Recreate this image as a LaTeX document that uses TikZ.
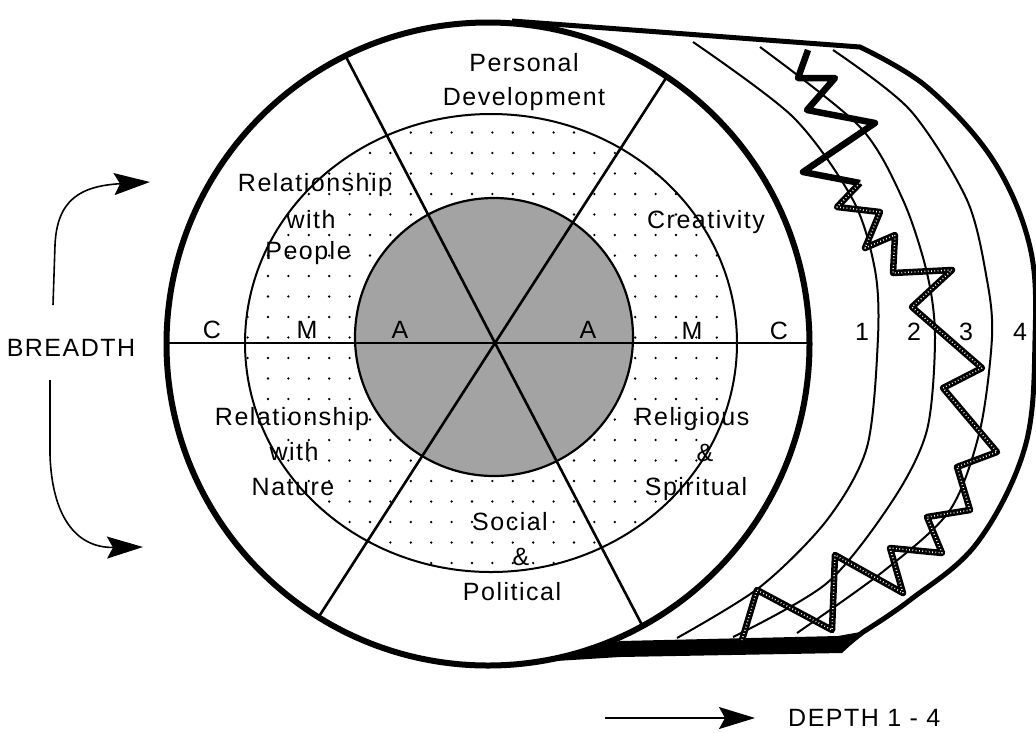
\documentclass[tikz,border=0pt]{standalone}
\usepackage{fontspec}
\setmainfont{Liberation Sans}[LetterSpace=6]
\usetikzlibrary{arrows.meta}

\begin{document}
\begin{tikzpicture}[x=1pt,y=-1pt,
  lbl/.style={inner sep=0pt, text height=17pt, text depth=0pt, font=\fontsize{25}{29}\selectfont},
  bigarrow/.style={line width=1.6pt, -{Stealth[length=36pt,width=22pt,inset=6pt]}},
  ring/.style={line width=2pt},
  spoke/.style={line width=2.6pt},
  zig/.style={line width=6.5pt, line join=round},
  zigdots/.style={zig, postaction={draw=white, line width=1.5pt, line join=round, dash pattern=on 0.8pt off 2.5pt}}]
\useasboundingbox (0,0) rectangle (1036,732);
% px, y down

% depth shell
\draw[line width=5pt, line join=round] (512,21) -- (860,47)
  -- plot[smooth, tension=0.6] coordinates {(860,47) (927,87) (993,160) (1030,247) (1035,340) (1025,447) (977,543) (910,600) (863,632)} -- (840,650);
\fill (540,662) -- (620,641) -- (838,636) -- (866,631) -- (842,653) -- (620,657) -- cycle;
\draw[ring] plot[smooth] coordinates {(693,42) (793,117) (853,200) (875,270) (878,337) (867,447) (827,520) (760,587) (677,638)};
\draw[ring] plot[smooth] coordinates {(760,47) (860,127) (903,200) (927,273) (935,337) (927,430) (893,500) (827,583) (733,637)};
\draw[ring] plot[smooth] coordinates {(833,50) (910,110) (967,200) (987,280) (992,337) (980,430) (950,510) (885,570) (797,633)};
\draw[zig] (808,50) -- (798,78) -- (835,78) -- (807,110) -- (875,123) -- (803,172) -- (860,183);
\draw[zigdots] (860,183) -- (837,207) -- (880,212) -- (865,248) -- (895,235) -- (893,273) -- (952,270) -- (912,307)
  -- (982,368) -- (943,388) -- (997,452) -- (957,467) -- (970,510) -- (927,517) -- (942,553) -- (890,548)
  -- (903,593) -- (835,555) -- (832,630) -- (757,590) -- (742,640);

% front face
\fill[white] (488,344) circle[radius=321.5];
\begin{scope}
\clip (491,343) ellipse[x radius=246, y radius=229];
\foreach \i in {-2,...,24}
  \foreach \j in {-9,...,15}
    \fill (268+20.4*\i, 276+20.5*\j) circle[radius=1.3];
\end{scope}
\draw[line width=2.2pt, fill=black!36] (494,337) circle[radius=139];
\coordinate (ctr) at (495,343);
\draw[spoke] (345,55) -- (ctr) -- (642,625);
\draw[spoke] (668,75) -- (ctr) -- (318,618);
\draw[line width=1.6pt] (167,343) -- (810,343);
\draw[ring] (491,343) ellipse[x radius=246, y radius=229];
\draw[line width=6pt] (488,344) circle[radius=321.5];

% sectors
\node[lbl] (pers) at (524,63) {Personal};
\node[lbl] (dev) at (524,97) {Development};
\node[lbl] (rp1) at (315,183) {Relationship};
\node[lbl] (rp2) at (311,220) {with};
\node[lbl] (rp3) at (308,251) {People};
\node[lbl] (crea) at (706,220) {Creativity};
\node[lbl] (rn1) at (292,417) {Relationship};
\node[lbl] (rn2) at (294,452) {with};
\node[lbl] (rn3) at (293,487) {Nature};
\node[lbl] (rel1) at (692,417) {Religious};
\node[lbl] (rel2) at (705,453) {\&};
\node[lbl] (rel3) at (696,487) {Spiritual};
\node[lbl] (soc1) at (510,522) {Social};
\node[lbl] (soc2) at (521,557) {\&};
\node[lbl] (soc3) at (512,592) {Political};

% levels
\node[lbl] (cl) at (212,330) {C};
\node[lbl] (ml) at (307,330) {M};
\node[lbl] (al) at (400,330) {A};
\node[lbl] (ar) at (588,330) {A};
\node[lbl] (mr) at (692,331) {M};
\node[lbl] (cr) at (779,331) {C};
\node[lbl] (d1) at (862,332) {1};
\node[lbl] (d2) at (914,332) {2};
\node[lbl] (d3) at (966,332) {3};
\node[lbl] (d4) at (1020,332) {4};

% breadth and depth
\node[lbl] (breadth) at (71,348) {BREADTH};
\node[lbl, anchor=west] (depth) at (788,718) {DEPTH 1 - 4};
\coordinate (b1) at (53,305);
\coordinate (b1tip) at (150,182);
\draw[bigarrow] (b1) -- (55,245) .. controls (57,200) and (80,186) .. (b1tip);
\coordinate (b2) at (50,380);
\coordinate (b2tip) at (143,547);
\draw[bigarrow] (b2) -- (50,455) .. controls (52,515) and (75,548) .. (b2tip);
\coordinate (d0) at (605,718);
\coordinate (dtip) at (755,718);
\draw[bigarrow] (d0) -- (dtip);
\end{tikzpicture}
\end{document}
